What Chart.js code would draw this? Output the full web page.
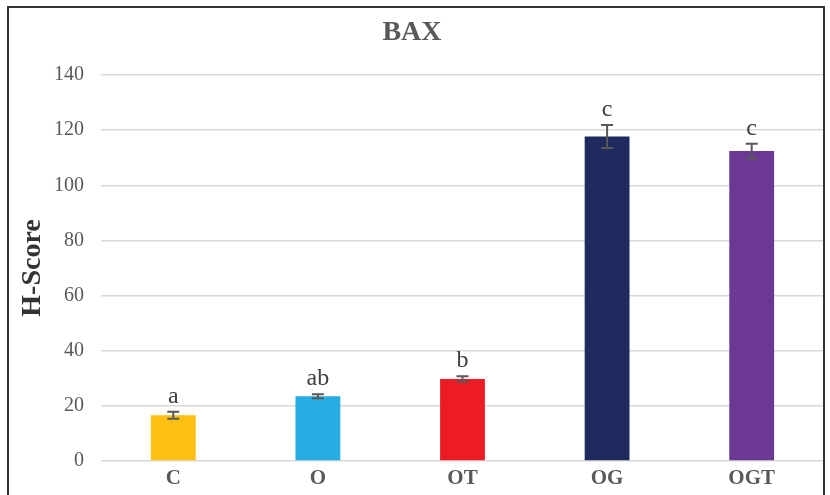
<!DOCTYPE html>
<html>
<head>
<meta charset="utf-8">
<script src="https://cdn.jsdelivr.net/npm/chart.js@4/dist/chart.umd.min.js"></script>
<style>
  html, body { margin: 0; padding: 0; background: #fff; }
  #wrap { position: relative; width: 830px; height: 495px; }
  #frame { position: absolute; left: 7px; top: 6px; width: 818px; height: 500px; border: 2px solid #333; box-sizing: border-box; pointer-events: none; }
  canvas { position: absolute; left: 0; top: 0; }
</style>
</head>
<body>
<div id="wrap">
  <canvas id="chart" width="830" height="495"></canvas>
  <div id="frame"></div>
</div>
<script>
// Data
const groups = ['C', 'O', 'OT', 'OG', 'OGT'];
const hScore = [16.6, 23.5, 29.7, 117.7, 112.4];
const errors = [1.3, 0.7, 1.0, 4.2, 2.7];
const letters = ['a', 'ab', 'b', 'c', 'c'];
const barColors = ['#fdbf12', '#27ace3', '#ed1c24', '#1f2a5e', '#6b3895'];

// Error bars and significance letters
const errorBarPlugin = {
    id: 'errorBars',
    afterDatasetsDraw(chart) {
        const ctx = chart.ctx;
        const y = chart.scales.y;
        const meta = chart.getDatasetMeta(0);
        ctx.save();
        ctx.strokeStyle = '#595959';
        ctx.lineWidth = 2;
        meta.data.forEach((bar, i) => {
            const top = y.getPixelForValue(hScore[i] + errors[i]);
            const bot = y.getPixelForValue(hScore[i] - errors[i]);
            ctx.beginPath();
            ctx.moveTo(bar.x, top); ctx.lineTo(bar.x, bot);
            ctx.moveTo(bar.x - 6, top); ctx.lineTo(bar.x + 6, top);
            ctx.moveTo(bar.x - 6, bot); ctx.lineTo(bar.x + 6, bot);
            ctx.stroke();
            ctx.fillStyle = '#404040';
            ctx.font = '24px "Liberation Serif"';
            ctx.textAlign = 'center';
            ctx.textBaseline = 'alphabetic';
            ctx.fillText(letters[i], bar.x, top - 9);
        });
        ctx.restore();
    }
};

function createChart() {
    const ctx = document.getElementById('chart').getContext('2d');
    new Chart(ctx, {
        type: 'bar',
        data: {
            labels: groups,
            datasets: [{
                data: hScore,
                backgroundColor: barColors,
                barPercentage: 0.31,
                categoryPercentage: 1
            }]
        },
        options: {
            responsive: false,
            animation: false,
            layout: { padding: { top: 0, right: 6, left: 0, bottom: 0 } },
            plugins: {
                legend: { display: false },
                title: {
                    display: true,
                    text: 'BAX',
                    color: '#595959',
                    padding: { top: 16, bottom: 25.4 },
                    font: { family: 'Liberation Serif', size: 28, weight: 'bold' }
                },
                tooltip: { enabled: false }
            },
            scales: {
                x: {
                    grid: { display: false, drawTicks: false },
                    border: { display: false },
                    ticks: {
                        color: '#595959',
                        padding: 5,
                        font: { family: 'Liberation Serif', size: 21, weight: 'bold' }
                    },
                    afterFit(scale) { scale.height = 34; }
                },
                y: {
                    min: 0,
                    max: 140,
                    ticks: {
                        stepSize: 20,
                        color: '#595959',
                        padding: 17,
                        font: { family: 'Liberation Serif', size: 20 }
                    },
                    grid: { color: '#d9d9d9', lineWidth: 1.5, drawTicks: false },
                    border: { display: false },
                    title: {
                        display: true,
                        text: 'H-Score',
                        color: '#333333',
                        padding: { top: 16, bottom: 0 },
                        font: { family: 'Liberation Serif', size: 28, weight: 'bold' }
                    },
                    afterFit(scale) { scale.width = 101; }
                }
            }
        },
        plugins: [errorBarPlugin]
    });
}

document.addEventListener('DOMContentLoaded', createChart);
</script>
</body>
</html>
